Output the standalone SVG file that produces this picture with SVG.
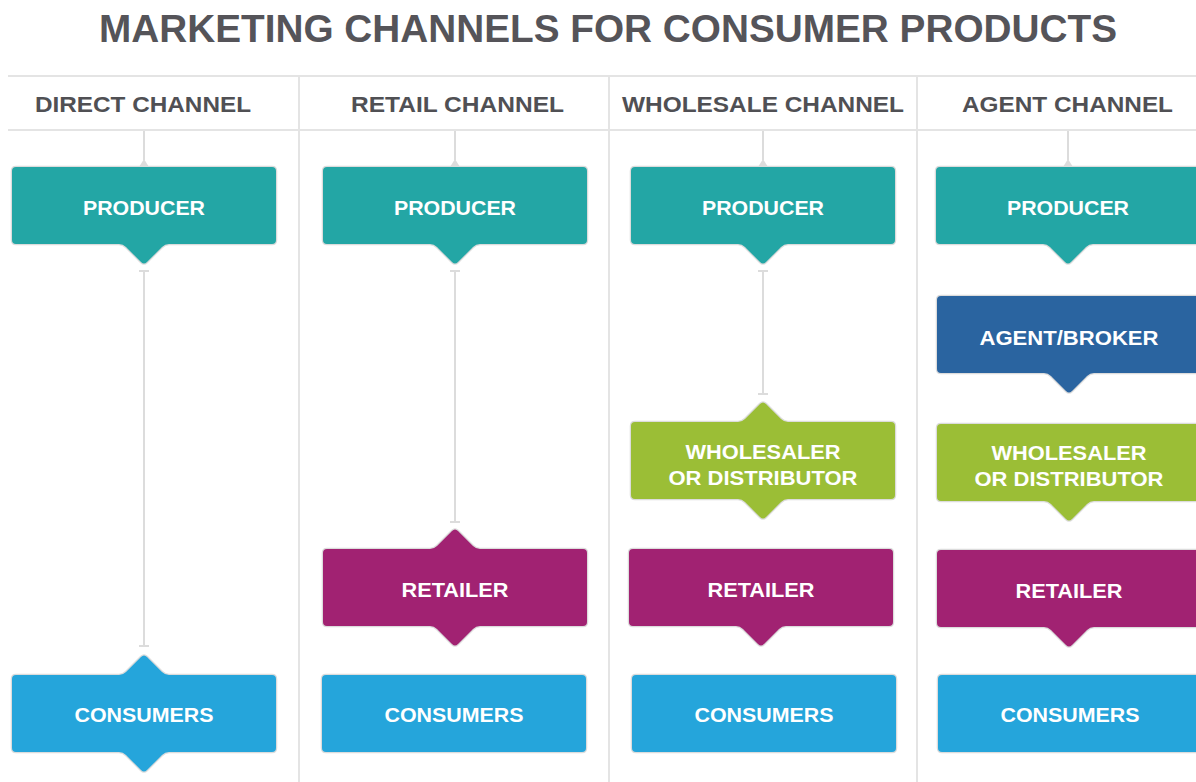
<svg xmlns="http://www.w3.org/2000/svg" width="1196" height="782" viewBox="0 0 1196 782">
<style>
text{font-family:"Liberation Sans",Arial,sans-serif;font-weight:bold}
.title{font-size:38px;fill:#555459}
.hdr{font-size:22px;fill:#505054}
.lbl{font-size:20px;fill:#ffffff;text-anchor:middle}
.grid{stroke:#e4e4e4;stroke-width:2;fill:none}
.node use{stroke:#dcdcdc;stroke-width:2.5;paint-order:stroke}
.teal{fill:#23a6a5}
.navy{fill:#2a64a0}
.green{fill:#9bbe36}
.plum{fill:#a12272}
.sky{fill:#25a5db}
.conn{stroke:#dcdcdc;stroke-width:2;fill:none}
.tip{fill:#dcdcdc}
</style>
<defs>
<path id="bx" d="M4,0 H260 Q264,0 264,4 V73 Q264,77 260,77 H4 Q0,77 0,73 V4 Q0,0 4,0 Z"/>
<path id="bxD" d="M4,0 H260 Q264,0 264,4 V73 Q264,77 260,77 H157 Q153,77 150,80 L135,95 Q132,98 129,95 L114,80 Q111,77 107,77 H4 Q0,77 0,73 V4 Q0,0 4,0 Z"/>
<path id="bxUD" d="M4,0 H107 Q111,0 114,-3 L129,-18 Q132,-21 135,-18 L150,-3 Q153,0 157,0 H260 Q264,0 264,4 V73 Q264,77 260,77 H157 Q153,77 150,80 L135,95 Q132,98 129,95 L114,80 Q111,77 107,77 H4 Q0,77 0,73 V4 Q0,0 4,0 Z"/>
<marker id="tee" viewBox="-1 -5 2 10" markerWidth="2" markerHeight="10" refX="0" refY="0" orient="auto" markerUnits="userSpaceOnUse">
<path d="M0,-5 V5" stroke="#dcdcdc" stroke-width="2"/>
</marker>
</defs>
<rect width="1196" height="782" fill="#ffffff"/>
<text class="title" x="99" y="42" textLength="1018" lengthAdjust="spacingAndGlyphs">MARKETING CHANNELS FOR CONSUMER PRODUCTS</text>
<g id="grid">
<line class="grid" x1="8" y1="76" x2="1196" y2="76"/>
<line class="grid" x1="8" y1="130" x2="1196" y2="130"/>
<line class="grid" x1="299" y1="76" x2="299" y2="782"/>
<line class="grid" x1="609" y1="76" x2="609" y2="782"/>
<line class="grid" x1="917" y1="76" x2="917" y2="782"/>
</g>
<g id="headers">
<text class="hdr" x="35" y="112" textLength="216" lengthAdjust="spacingAndGlyphs">DIRECT CHANNEL</text>
<text class="hdr" x="351" y="112" textLength="213" lengthAdjust="spacingAndGlyphs">RETAIL CHANNEL</text>
<text class="hdr" x="622" y="112" textLength="282" lengthAdjust="spacingAndGlyphs">WHOLESALE CHANNEL</text>
<text class="hdr" x="962" y="112" textLength="211" lengthAdjust="spacingAndGlyphs">AGENT CHANNEL</text>
</g>
<g id="connectors">
<line class="conn" x1="144" y1="131" x2="144" y2="160"/>
<path class="tip" d="M139,167 L144,159 L149,167 Z"/>
<line class="conn" x1="455" y1="131" x2="455" y2="160"/>
<path class="tip" d="M450,167 L455,159 L460,167 Z"/>
<line class="conn" x1="763" y1="131" x2="763" y2="160"/>
<path class="tip" d="M758,167 L763,159 L768,167 Z"/>
<line class="conn" x1="1068" y1="131" x2="1068" y2="160"/>
<path class="tip" d="M1063,167 L1068,159 L1073,167 Z"/>
<line class="conn" x1="144" y1="271" x2="144" y2="646" marker-start="url(#tee)" marker-end="url(#tee)"/>
<line class="conn" x1="455" y1="271" x2="455" y2="522" marker-start="url(#tee)" marker-end="url(#tee)"/>
<line class="conn" x1="763" y1="271" x2="763" y2="394" marker-start="url(#tee)" marker-end="url(#tee)"/>
</g>
<g id="direct-producer" class="node"><use href="#bxD" x="12" y="167" class="teal"/><text class="lbl" x="144" y="215" textLength="122" lengthAdjust="spacingAndGlyphs">PRODUCER</text></g>
<g id="direct-consumers" class="node"><use href="#bxUD" x="12" y="675" class="sky"/><text class="lbl" x="144" y="722" textLength="139" lengthAdjust="spacingAndGlyphs">CONSUMERS</text></g>
<g id="retail-producer" class="node"><use href="#bxD" x="323" y="167" class="teal"/><text class="lbl" x="455" y="215" textLength="122" lengthAdjust="spacingAndGlyphs">PRODUCER</text></g>
<g id="retail-retailer" class="node"><use href="#bxUD" x="323" y="549" class="plum"/><text class="lbl" x="455" y="597" textLength="107" lengthAdjust="spacingAndGlyphs">RETAILER</text></g>
<g id="retail-consumers" class="node"><use href="#bx" x="322" y="675" class="sky"/><text class="lbl" x="454" y="722" textLength="139" lengthAdjust="spacingAndGlyphs">CONSUMERS</text></g>
<g id="wholesale-producer" class="node"><use href="#bxD" x="631" y="167" class="teal"/><text class="lbl" x="763" y="215" textLength="122" lengthAdjust="spacingAndGlyphs">PRODUCER</text></g>
<g id="wholesale-wholesaler" class="node"><use href="#bxUD" x="631" y="422" class="green"/><text class="lbl" x="763" y="459" textLength="155" lengthAdjust="spacingAndGlyphs">WHOLESALER</text><text class="lbl" x="763" y="485" textLength="189" lengthAdjust="spacingAndGlyphs">OR DISTRIBUTOR</text></g>
<g id="wholesale-retailer" class="node"><use href="#bxD" x="629" y="549" class="plum"/><text class="lbl" x="761" y="597" textLength="107" lengthAdjust="spacingAndGlyphs">RETAILER</text></g>
<g id="wholesale-consumers" class="node"><use href="#bx" x="632" y="675" class="sky"/><text class="lbl" x="764" y="722" textLength="139" lengthAdjust="spacingAndGlyphs">CONSUMERS</text></g>
<g id="agent-producer" class="node"><use href="#bxD" x="936" y="167" class="teal"/><text class="lbl" x="1068" y="215" textLength="122" lengthAdjust="spacingAndGlyphs">PRODUCER</text></g>
<g id="agent-broker" class="node"><use href="#bxD" x="937" y="296" class="navy"/><text class="lbl" x="1069" y="345" textLength="179" lengthAdjust="spacingAndGlyphs">AGENT/BROKER</text></g>
<g id="agent-wholesaler" class="node"><use href="#bxD" x="937" y="424" class="green"/><text class="lbl" x="1069" y="460" textLength="155" lengthAdjust="spacingAndGlyphs">WHOLESALER</text><text class="lbl" x="1069" y="486" textLength="189" lengthAdjust="spacingAndGlyphs">OR DISTRIBUTOR</text></g>
<g id="agent-retailer" class="node"><use href="#bxD" x="937" y="550" class="plum"/><text class="lbl" x="1069" y="598" textLength="107" lengthAdjust="spacingAndGlyphs">RETAILER</text></g>
<g id="agent-consumers" class="node"><use href="#bx" x="938" y="675" class="sky"/><text class="lbl" x="1070" y="722" textLength="139" lengthAdjust="spacingAndGlyphs">CONSUMERS</text></g>
</svg>
